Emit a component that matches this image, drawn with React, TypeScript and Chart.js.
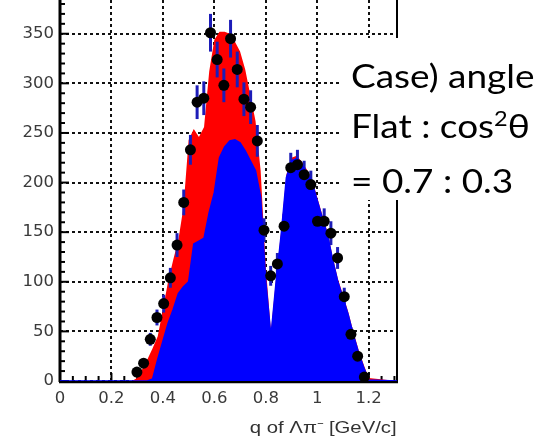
import React, { useEffect, useRef } from "react";
import { Chart, registerables } from "chart.js";

Chart.register(...registerables);

// MC histogram sample positions (q in GeV/c)
const mcQ = [0, 0.28, 0.3, 0.32, 0.34, 0.36, 0.38, 0.4, 0.42, 0.44, 0.46, 0.48, 0.5, 0.52, 0.54, 0.56, 0.58, 0.6, 0.62, 0.64, 0.66, 0.68, 0.7, 0.72, 0.74, 0.76, 0.78, 0.8, 0.82, 0.84, 0.86, 0.88, 0.9, 0.92, 0.94, 0.96, 0.98, 1.0, 1.02, 1.04, 1.06, 1.08, 1.1, 1.12, 1.14, 1.16, 1.18, 1.2, 1.31];
// total MC (red)
const totalMC = [0, 0, 3, 12, 22, 33, 45, 72, 100, 122, 142, 175, 243, 254, 246, 256, 312, 344, 352, 352, 350, 342, 332, 314, 288, 262, 212, 115, 50, 103, 152, 208, 225, 227, 221, 213, 203, 185, 167, 150, 125, 103, 87, 70, 50, 32, 17, 3, 0];
// flat component (blue)
const flatMC = [0, 0, 0, 0, 0, 2, 22, 40, 58, 72, 88, 95, 100, 138, 141, 144, 170, 190, 225, 236, 242, 243, 240, 232, 222, 212, 185, 100, 45, 100, 148, 205, 222, 224, 218, 210, 200, 182, 164, 147, 122, 100, 84, 67, 47, 29, 14, 1, 0];

// data points
const dataQ = [0.299, 0.325, 0.351, 0.377, 0.403, 0.429, 0.455, 0.481, 0.507, 0.533, 0.559, 0.585, 0.611, 0.637, 0.663, 0.689, 0.715, 0.741, 0.767, 0.793, 0.819, 0.845, 0.871, 0.897, 0.923, 0.949, 0.975, 1.001, 1.027, 1.053, 1.079, 1.105, 1.131, 1.157, 1.183];
const dataCounts = [9, 18, 42, 64, 78, 104, 137, 180, 233, 281, 285, 351, 324, 298, 345, 314, 284, 276, 242, 152, 106, 118, 156, 215, 218, 208, 198, 161, 161, 149, 124, 85, 47, 25, 4];
const dataErr = [3, 4, 6.5, 8, 9, 10, 12, 13, 15, 17, 17, 19, 18, 17, 19, 18, 17, 17, 16, 12, 10, 11, 12.5, 15, 15, 14, 14, 13, 13, 12, 11, 9, 7, 5, 2];

const xMin = 0;
const xMax = 1.31;
const yMin = 0;
const yMax = 384;
const xStep = 0.2;
const yStep = 50;
const xMinorStep = 0.05;
const yMinorStep = 10;

const xTitle = "q of Λπ⁻ [GeV/c]";
const noteLines = ["Case) angle", "Flat : cos", "= 0.7 : 0.3"];

const errorBarPlugin = {
  id: "errorBars",
  beforeDatasetDraw(chart: any, args: any) {
    if (args.index !== 2) return;
    const { ctx, chartArea, scales } = chart;
    ctx.save();
    ctx.beginPath();
    ctx.rect(chartArea.left, chartArea.top, chartArea.right - chartArea.left, chartArea.bottom - chartArea.top);
    ctx.clip();
    ctx.strokeStyle = "#1c1cb8";
    ctx.lineWidth = 3;
    for (let i = 0; i < dataQ.length; i++) {
      const px = scales.x.getPixelForValue(dataQ[i]);
      const y1 = scales.y.getPixelForValue(dataCounts[i] + dataErr[i]);
      const y2 = scales.y.getPixelForValue(Math.max(0, dataCounts[i] - dataErr[i]));
      ctx.beginPath();
      ctx.moveTo(px, y1);
      ctx.lineTo(px, y2);
      ctx.stroke();
    }
    ctx.restore();
  },
};

const framePlugin = {
  id: "frame",
  beforeDatasetsDraw(chart: any) {
    const { ctx, chartArea, scales } = chart;
    const { left, right, top, bottom } = chartArea;
    ctx.save();
    ctx.strokeStyle = "#000";
    ctx.lineWidth = 2;
    for (let v = yMin; v <= yMax; v += yMinorStep) {
      const py = scales.y.getPixelForValue(v);
      const major = v % yStep === 0;
      ctx.beginPath();
      ctx.moveTo(left, py);
      ctx.lineTo(left + (major ? 9 : 5), py);
      ctx.stroke();
    }
    for (let k = 0; k * xMinorStep <= xMax + 1e-9; k++) {
      const v = k * xMinorStep;
      const px = scales.x.getPixelForValue(v);
      const major = k % 4 === 0;
      ctx.beginPath();
      ctx.moveTo(px, bottom);
      ctx.lineTo(px, bottom - (major ? 8 : 5));
      ctx.stroke();
    }
    ctx.lineWidth = 3;
    ctx.beginPath();
    ctx.moveTo(left, top);
    ctx.lineTo(left, bottom + 1);
    ctx.stroke();
    ctx.lineWidth = 2.5;
    ctx.beginPath();
    ctx.moveTo(left - 1, bottom + 1);
    ctx.lineTo(right + 1, bottom + 1);
    ctx.stroke();
    ctx.lineWidth = 2;
    ctx.beginPath();
    ctx.moveTo(right, top);
    ctx.lineTo(right, bottom);
    ctx.stroke();
    ctx.restore();
  },
};

export default function App() {
  const canvasRef = useRef<HTMLCanvasElement | null>(null);

  useEffect(() => {
    const canvas = canvasRef.current;
    if (!canvas) return;
    const chart = new Chart(canvas, {
      type: "scatter",
      data: {
        datasets: [
          {
            type: "scatter",
            label: "data",
            data: dataQ.map((q, i) => ({ x: q, y: dataCounts[i] })),
            pointRadius: 5.5,
            pointBackgroundColor: "#000",
            pointBorderWidth: 0,
            order: 0,
          },
          {
            type: "line",
            label: "flat",
            data: mcQ.map((q, i) => ({ x: q, y: flatMC[i] })),
            borderColor: "#0000ff",
            backgroundColor: "#0000ff",
            borderWidth: 1.5,
            pointRadius: 0,
            fill: "origin",
            tension: 0,
            order: 1,
          },
          {
            type: "line",
            label: "total",
            data: mcQ.map((q, i) => ({ x: q, y: totalMC[i] })),
            borderColor: "#ff0000",
            backgroundColor: "#ff0000",
            borderWidth: 0,
            pointRadius: 0,
            fill: "origin",
            tension: 0,
            order: 2,
          },
        ] as any,
      },
      options: {
        animation: false,
        responsive: false,
        devicePixelRatio: 1,
        layout: { autoPadding: false, padding: { left: 0, right: 145, top: 0, bottom: 0 } },
        plugins: { legend: { display: false }, tooltip: { enabled: false } },
        scales: {
          x: {
            type: "linear",
            min: xMin,
            max: xMax,
            afterFit: (s: any) => {
              s.height = 59;
              s.paddingLeft = 0;
              s.paddingRight = 0;
            },
            grid: { color: "#111", lineWidth: 2, drawTicks: false },
            border: { display: false, dash: [3, 3] },
            ticks: {
              stepSize: xStep,
              includeBounds: false,
              autoSkip: false,
              maxRotation: 0,
              padding: 8,
              color: "#3a3a3a",
              font: { family: "DejaVu Sans", size: 16.5 },
              callback: (v: any) => String(Math.round(Number(v) * 10) / 10),
            },
          },
          y: {
            type: "linear",
            min: yMin,
            max: yMax,
            afterFit: (s: any) => {
              s.width = 60;
              s.paddingTop = 0;
              s.paddingBottom = 0;
            },
            grid: { color: "#111", lineWidth: 2, drawTicks: false },
            border: { display: false, dash: [3, 3] },
            ticks: {
              stepSize: yStep,
              includeBounds: false,
              autoSkip: false,
              padding: 6,
              color: "#3a3a3a",
              font: { family: "DejaVu Sans", size: 16.5 },
            },
          },
        },
      },
      plugins: [framePlugin, errorBarPlugin],
    });
    return () => chart.destroy();
  }, []);

  return (
    <div style={{ position: "fixed", left: 0, top: 0, width: 542, height: 440, background: "#fff", overflow: "hidden" }}>
      <canvas ref={canvasRef} width={542} height={440} style={{ display: "block", width: 542, height: 440 }} />
      <div
        style={{
          position: "absolute",
          left: 340,
          top: 38,
          width: 202,
          height: 162,
          background: "#fff",
        }}
      />
      <div
        style={{
          position: "absolute",
          left: 351,
          top: 50,
          fontFamily: "Lato, 'Open Sans', sans-serif",
          fontSize: 33,
          lineHeight: "50px",
          color: "#000",
          whiteSpace: "nowrap",
          transform: "scaleX(1.12)",
          transformOrigin: "left top",
        }}
      >
        <div>{noteLines[0]}</div>
        <div>
          {noteLines[1]}
          <span style={{ fontSize: 21, position: "relative", top: -12 }}>2</span>θ
        </div>
        <div>{noteLines[2]}</div>
      </div>
      <div
        style={{
          position: "absolute",
          right: 542 - 397,
          top: 418,
          fontFamily: "'Liberation Sans', Arial, sans-serif",
          fontSize: 16,
          lineHeight: "20px",
          color: "#333",
          whiteSpace: "nowrap",
          transform: "scaleX(1.27)",
          transformOrigin: "right top",
        }}
      >
        {xTitle}
      </div>
    </div>
  );
}
